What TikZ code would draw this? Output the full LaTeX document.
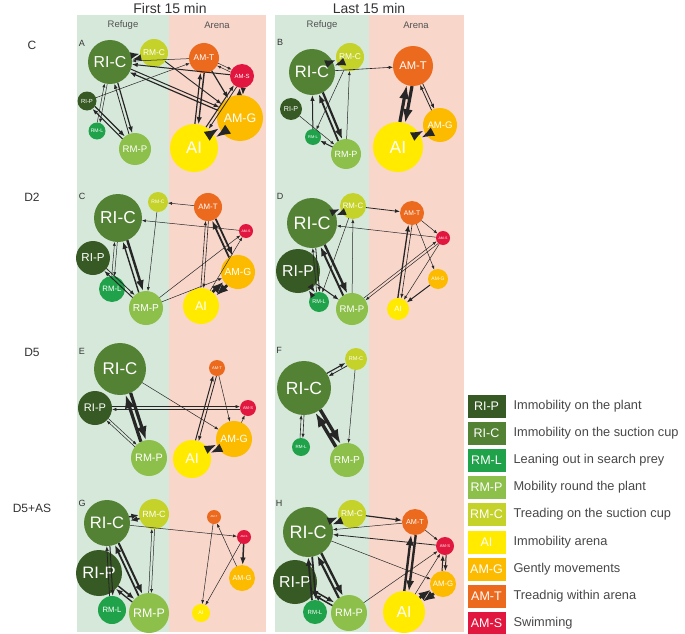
\documentclass[tikz,border=0pt]{standalone}
\usepackage{fontspec}
\setmainfont{Liberation Sans}
\usetikzlibrary{arrows.meta,calc}
\definecolor{cRIP}{HTML}{375A24}
\definecolor{cRIC}{HTML}{548235}
\definecolor{cRML}{HTML}{1FA24A}
\definecolor{cRMP}{HTML}{8DBF4B}
\definecolor{cRMC}{HTML}{C5D22A}
\definecolor{cAI}{HTML}{FFEA00}
\definecolor{cAMG}{HTML}{FDBB00}
\definecolor{cAMT}{HTML}{EC6A1E}
\definecolor{cAMS}{HTML}{E2173F}
\definecolor{bgRef}{HTML}{D6E8DA}
\definecolor{bgAr}{HTML}{F8D6CA}
\definecolor{txtg}{HTML}{333333}
\tikzset{
  bub/.style={circle, inner sep=0pt, text=white},
  e/.style={draw=black!85, -{Latex[length=2.2pt 3.6]}},
  ttl/.style={font=\fontsize{14}{14}\selectfont, text=txtg},
  zone/.style={font=\fontsize{9.5}{9.5}\selectfont, text=txtg!85},
  rowl/.style={font=\fontsize{12}{12}\selectfont, text=txtg},
  plet/.style={font=\fontsize{9}{9}\selectfont, text=txtg},
  lbox/.style={minimum width=38pt, minimum height=23pt, inner sep=0pt, text=white, font=\fontsize{12.5}{12.5}\selectfont},
  ltxt/.style={anchor=west, text=txtg!90, font=\fontsize{12.8}{12.8}\selectfont}
}
\newcommand\bn[7][0.6]{\pgfmathsetmacro\bnfs{#1*#5}\expandafter\def\csname radof#2\endcsname{#5}\node[bub, fill=#6, minimum size=2*#5pt, font=\fontsize{\bnfs pt}{\bnfs pt}\selectfont] (#2) at (#3,#4) {#7};}
\newcommand\edge[4]{\pgfmathsetmacro\eRa{\csname radof#1\endcsname}\pgfmathsetmacro\eRb{\csname radof#2\endcsname}\pgfmathsetmacro\eO{#4}\draw[e,line width=#3pt,shorten <=\eRa pt,shorten >=\eRb pt] ($(#1.center)!\eO pt!90:(#2.center)$) -- ($(#2.center)!\eO pt!-90:(#1.center)$);}
\newcommand\edpair[4]{\pgfmathsetmacro\eOff{0.5*max(#3,#4)+1.1}\edge{#1}{#2}{#3}{\eOff}\edge{#2}{#1}{#4}{\eOff}}
\newcommand\edone[3]{\edge{#1}{#2}{#3}{0}}
\begin{document}
\begin{tikzpicture}[x=1pt,y=-1pt]
\useasboundingbox (0,0) rectangle (685,634);
% backgrounds
\fill[bgRef] (77,15) rectangle (169,632);
\fill[bgAr] (169,15) rectangle (266,632);
\fill[bgRef] (275,15) rectangle (369,632);
\fill[bgAr] (369,15) rectangle (464,632);
\node[ttl] (t1) at (170,8) {First 15 min};
\node[ttl] (t2) at (369,8) {Last 15 min};
\node[zone] (z1) at (123,25) {Refuge};
\node[zone] (z2) at (217,25) {Arena};
\node[zone] (z3) at (322,25) {Refuge};
\node[zone] (z4) at (416,25) {Arena};
\node[rowl] (r1) at (32,45) {C};
\node[rowl] (r2) at (32,197) {D2};
\node[rowl] (r3) at (32,352) {D5};
\node[rowl] (r4) at (32,508) {D5+AS};
\node[plet] (pA) at (82,43) {A};
\node[plet] (pB) at (280,42) {B};
\node[plet] (pC) at (82,196) {C};
\node[plet] (pD) at (280,196) {D};
\node[plet] (pE) at (82,351) {E};
\node[plet] (pF) at (279,350) {F};
\node[plet] (pG) at (82,503) {G};
\node[plet] (pH) at (279,503) {H};
% ---------- Panel A
\bn[0.72]{Aric}{110}{62}{22}{cRIC}{RI-C}
\bn{Armc}{154}{53}{14}{cRMC}{RM-C}
\bn[0.62]{Arip}{87}{101}{9.5}{cRIP}{RI-P}
\bn{Arml}{97}{131}{8.5}{cRML}{RM-L}
\bn{Armp}{135}{149}{16}{cRMP}{RM-P}
\bn[0.56]{Aamt}{204}{58}{15}{cAMT}{AM-T}
\bn[0.5]{Aams}{242}{76}{12}{cAMS}{AM-S}
\bn[0.54]{Aamg}{240}{118}{23}{cAMG}{AM-G}
\bn[0.7]{Aai}{194}{148}{24}{cAI}{AI}
\edpair{Aric}{Armc}{2}{2}
\edpair{Aric}{Armp}{1.2}{0.8}
\edpair{Aric}{Arml}{0.5}{0.5}
\edpair{Arip}{Armp}{1.2}{1}
\edone{Arip}{Aamt}{0.5}
\edone{Aamt}{Aric}{0.5}
\edpair{Aamg}{Aric}{1.2}{1}
\edone{Aams}{Aric}{1}
\edone{Armc}{Aamg}{0.9}
\edpair{Aamt}{Aai}{1.4}{1.2}
\edpair{Aamt}{Aams}{0.5}{0.5}
\edone{Aamt}{Aamg}{1.2}
\edpair{Aams}{Aamg}{1.4}{1.4}
\edpair{Aai}{Aams}{1}{0.8}
\edpair{Aai}{Aamg}{3.5}{3.5}
% ---------- Panel B
\bn[0.72]{Bric}{312}{72}{23}{cRIC}{RI-C}
\bn{Brmc}{350}{57}{14}{cRMC}{RM-C}
\bn[0.65]{Brip}{291}{109}{11}{cRIP}{RI-P}
\bn[0.5]{Brml}{313}{137}{8}{cRML}{RM-L}
\bn{Brmp}{346}{154}{15}{cRMP}{RM-P}
\bn[0.56]{Bamt}{413}{66}{20}{cAMT}{AM-T}
\bn[0.56]{Bamg}{440}{125}{17}{cAMG}{AM-G}
\bn[0.7]{Bai}{398}{147}{25}{cAI}{AI}
\edpair{Bric}{Brmc}{2.5}{2.5}
\edpair{Bric}{Brmp}{2.2}{1.8}
\edone{Brml}{Bric}{1}
\edone{Brmc}{Brml}{0.5}
\edone{Brmp}{Brml}{1}
\edone{Brip}{Brmp}{0.5}
\edone{Brmp}{Brmc}{0.5}
\edone{Bric}{Bamt}{0.6}
\edpair{Bamt}{Bai}{3.2}{3.2}
\edpair{Bamt}{Bamg}{0.8}{0.8}
\edpair{Bai}{Bamg}{3}{3}
% ---------- Panel C
\bn[0.5]{Crmc}{158}{202}{10}{cRMC}{RM-C}
\bn[0.72]{Cric}{118}{218}{24}{cRIC}{RI-C}
\bn[0.68]{Crip}{93}{258}{17}{cRIP}{RI-P}
\bn[0.6]{Crml}{112}{289}{13}{cRML}{RM-L}
\bn{Crmp}{146}{308}{17}{cRMP}{RM-P}
\bn[0.56]{Camt}{208}{207}{14}{cAMT}{AM-T}
\bn[0.5]{Cams}{246}{231}{7}{cAMS}{AM-S}
\bn[0.6]{Camg}{238}{272}{17}{cAMG}{AM-G}
\bn[0.7]{Cai}{201}{306}{18}{cAI}{AI}
\edone{Camt}{Crmc}{0.5}
\edone{Crmc}{Crmp}{0.5}
\edone{Cams}{Cric}{0.5}
\edpair{Cric}{Crmp}{2.4}{1.4}
\edpair{Cric}{Crml}{0.5}{0.5}
\edpair{Crmp}{Crip}{1}{0.8}
\edone{Crmp}{Cams}{0.5}
\edone{Crmp}{Camg}{0.5}
\edpair{Camt}{Camg}{1.8}{1.8}
\edpair{Camt}{Cai}{0.6}{0.6}
\edone{Cai}{Cams}{0.5}
\edpair{Cai}{Camg}{2.8}{2.8}
% ---------- Panel D
\bn{Drmc}{353}{206}{13}{cRMC}{RM-C}
\bn[0.72]{Dric}{312}{223}{25}{cRIC}{RI-C}
\bn[0.72]{Drip}{298}{271}{22}{cRIP}{RI-P}
\bn[0.55]{Drml}{319}{302}{10}{cRML}{RM-L}
\bn{Drmp}{352}{309}{16}{cRMP}{RM-P}
\bn[0.56]{Damt}{412}{213}{12}{cAMT}{AM-T}
\bn[0.5]{Dams}{443}{238}{7}{cAMS}{AM-S}
\bn[0.5]{Damg}{438}{279}{10}{cAMG}{AM-G}
\bn[0.7]{Dai}{398}{309}{11}{cAI}{AI}
\edpair{Dric}{Drmc}{2.2}{2.2}
\edpair{Dric}{Drmp}{2.4}{2}
\edone{Drmc}{Damt}{0.8}
\edone{Dams}{Dric}{0.5}
\edpair{Dric}{Drml}{0.8}{0.6}
\edone{Drmc}{Drml}{0.5}
\edone{Drmp}{Drmc}{0.5}
\edpair{Drip}{Drml}{1.8}{1.5}
\edone{Drip}{Drmp}{1}
\edpair{Drmp}{Dams}{0.5}{0.5}
\edone{Damt}{Dams}{0.5}
\edone{Damt}{Damg}{0.5}
\edpair{Dai}{Damt}{1.3}{0.6}
\edone{Damg}{Dai}{1}
\edone{Dams}{Dai}{0.5}
% ---------- Panel E
\bn[0.65]{Eric}{120}{369}{26}{cRIC}{RI-C}
\bn[0.65]{Erip}{95}{408}{17}{cRIP}{RI-P}
\bn{Ermp}{149}{458}{18}{cRMP}{RM-P}
\bn[0.5]{Eamt}{217}{368}{8}{cAMT}{AM-T}
\bn[0.5]{Eams}{248}{408}{8}{cAMS}{AM-S}
\bn[0.58]{Eamg}{234}{439}{18}{cAMG}{AM-G}
\bn[0.75]{Eai}{192}{459}{19}{cAI}{AI}
\edpair{Eric}{Ermp}{3.2}{3.2}
\edone{Eric}{Eamg}{0.5}
\edpair{Erip}{Eams}{0.6}{0.6}
\edpair{Erip}{Ermp}{0.5}{0.5}
\edpair{Eai}{Eamt}{1}{0.8}
\edone{Eamt}{Eamg}{0.5}
\edone{Eamg}{Eams}{0.5}
\edpair{Eai}{Eamg}{2.8}{2.8}
% ---------- Panel F
\bn[0.5]{Frmc}{356}{359}{11}{cRMC}{RM-C}
\bn[0.65]{Fric}{304}{388}{27}{cRIC}{RI-C}
\bn[0.5]{Frml}{301}{447}{9}{cRML}{RM-L}
\bn{Frmp}{347}{460}{17}{cRMP}{RM-P}
\edpair{Fric}{Frmc}{1.1}{0.8}
\edone{Frmc}{Frmp}{0.5}
\edpair{Fric}{Frml}{0.6}{0.6}
\edpair{Fric}{Frmp}{3.4}{3.4}
% ---------- Panel G
\bn[0.72]{Gric}{107}{523}{23}{cRIC}{RI-C}
\bn{Grmc}{154}{514}{15}{cRMC}{RM-C}
\bn[0.72]{Grip}{99}{573}{23}{cRIP}{RI-P}
\bn[0.55]{Grml}{112}{610}{14}{cRML}{RM-L}
\bn[0.62]{Grmp}{149}{613}{20}{cRMP}{RM-P}
\bn[0.4]{Gamt}{214}{517}{7}{cAMT}{AM-T}
\bn[0.4]{Gams}{244}{537}{7}{cAMS}{AM-S}
\bn[0.55]{Gamg}{242}{578}{13}{cAMG}{AM-G}
\bn[0.6]{Gai}{201}{613}{9}{cAI}{AI}
\edpair{Gric}{Grmc}{1.5}{1.5}
\edpair{Grmc}{Grmp}{0.5}{0.5}
\edpair{Gric}{Grmp}{2}{1.8}
\edpair{Gric}{Grml}{1}{0.8}
\edpair{Grip}{Grmp}{1.5}{1.3}
\edone{Gric}{Gams}{0.5}
\edone{Gamt}{Gai}{0.5}
\edone{Gamg}{Gamt}{0.5}
\edone{Gams}{Gai}{0.5}
\edone{Gams}{Gamg}{1.5}
% ---------- Panel H
\bn{Hrmc}{352}{514}{14}{cRMC}{RM-C}
\bn[0.72]{Hric}{308}{532}{25}{cRIC}{RI-C}
\bn[0.72]{Hrip}{295}{582}{22}{cRIP}{RI-P}
\bn[0.5]{Hrml}{315}{612}{12}{cRML}{RM-L}
\bn{Hrmp}{349}{613}{18}{cRMP}{RM-P}
\bn[0.56]{Hamt}{415}{522}{13}{cAMT}{AM-T}
\bn[0.45]{Hams}{445}{546}{9}{cAMS}{AM-S}
\bn[0.6]{Hamg}{443}{584}{13}{cAMG}{AM-G}
\bn[0.75]{Hai}{404}{612}{21}{cAI}{AI}
\edpair{Hric}{Hrmc}{2.4}{2.4}
\edone{Hrmc}{Hamt}{1.2}
\edone{Hamt}{Hric}{0.5}
\edone{Hams}{Hric}{0.8}
\edone{Hric}{Hamg}{0.5}
\edpair{Hric}{Hrmp}{2.4}{2.2}
\edpair{Hric}{Hrml}{1.8}{1.8}
\edpair{Hrip}{Hrmp}{1.5}{1.5}
\edone{Hrmp}{Hams}{0.5}
\edone{Hamt}{Hams}{0.5}
\edpair{Hamt}{Hai}{2.4}{2.4}
\edpair{Hams}{Hamg}{1}{1}
\edone{Hai}{Hams}{0.5}
\edpair{Hai}{Hamg}{2.8}{2.8}
% ---------- Legend
\node[lbox, fill=cRIP] (L1) at (486.5,406) {RI-P};
\node[lbox, fill=cRIC] (L2) at (486.5,433) {RI-C};
\node[lbox, fill=cRML] (L3) at (486.5,460) {RM-L};
\node[lbox, fill=cRMP] (L4) at (486.5,487) {RM-P};
\node[lbox, fill=cRMC] (L5) at (486.5,514) {RM-C};
\node[lbox, fill=cAI]  (L6) at (486.5,542) {AI};
\node[lbox, fill=cAMG] (L7) at (486.5,569) {AM-G};
\node[lbox, fill=cAMT] (L8) at (486.5,596) {AM-T};
\node[lbox, fill=cAMS] (L9) at (486.5,623) {AM-S};
\node[ltxt] (D1) at (510,406) {Immobility on the plant};
\node[ltxt] (D2) at (510,433) {Immobility on the suction cup};
\node[ltxt] (D3) at (510,460) {Leaning out in search prey};
\node[ltxt] (D4) at (510,487) {Mobility round the plant};
\node[ltxt] (D5) at (510,514) {Treading on the suction cup};
\node[ltxt] (D6) at (510,542) {Immobility arena};
\node[ltxt] (D7) at (510,569) {Gently movements};
\node[ltxt] (D8) at (510,596) {Treadnig within arena};
\node[ltxt] (D9) at (510,623) {Swimming};
\end{tikzpicture}
\end{document}
